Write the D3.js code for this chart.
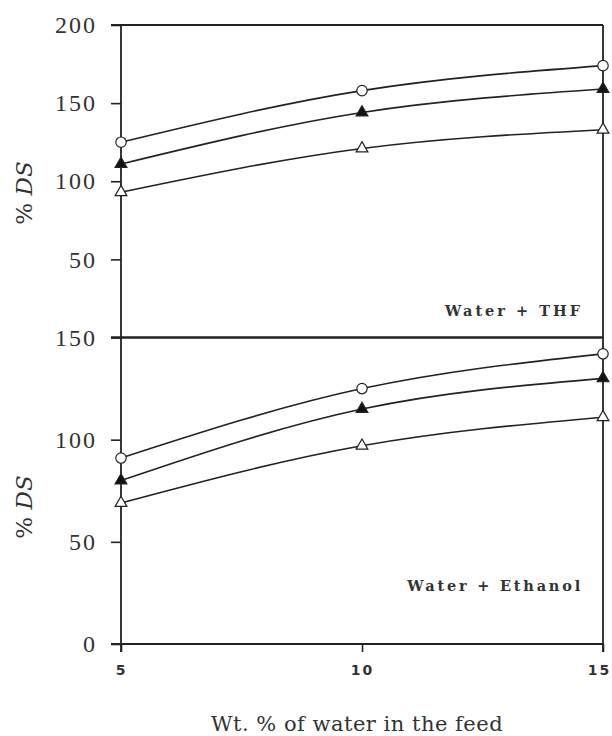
<!DOCTYPE html>
<html>
<head>
<meta charset="utf-8">
<script src="https://cdn.jsdelivr.net/npm/d3@7"></script>
<style>
  body { margin: 0; background: #fff; }
  svg { display: block; }
</style>
</head>
<body>
<svg class="chart"></svg>
<script>
// data
var waterPct = [5, 10, 15]
var thfCircle = [125, 158, 174]
var thfFilledTri = [111, 144, 159]
var thfOpenTri = [93, 121, 133]
var ethCircle = [91, 125, 142]
var ethFilledTri = [80, 115, 130]
var ethOpenTri = [69, 97, 111]
var topTicks = [50, 100, 150, 200]
var bottomTicks = [0, 50, 100, 150]

var width = 612, height = 736
var plotLeft = 121, plotRight = 603, plotTop = 25, plotMid = 337.5, plotBottom = 644

var svg = d3.select(".chart")
    .attr("width", width)
    .attr("height", height)

var xScale = d3.scaleLinear().domain([5, 15]).range([plotLeft, plotRight])
var yTop = d3.scaleLinear().domain([0, 200]).range([plotMid, plotTop])
var yBot = d3.scaleLinear().domain([0, 150]).range([plotBottom, plotMid])

var serif = "'Liberation Serif', 'DejaVu Serif', serif"
var wideSerif = "'DejaVu Serif', serif"

// left axes
function styleLeft(g) {
    g.select(".domain").remove()
    g.selectAll(".tick line").attr("stroke", "#222").attr("stroke-width", 1.6)
    g.selectAll(".tick text")
        .attr("font-family", serif)
        .attr("font-size", 24)
        .attr("letter-spacing", 2)
        .attr("fill", "#333")
}

svg.append("g")
    .attr("transform", "translate(" + plotLeft + ",0)")
    .call(d3.axisLeft(yTop).tickValues(topTicks).tickSize(10).tickPadding(14))
    .call(styleLeft)

svg.append("g")
    .attr("transform", "translate(" + plotLeft + ",0)")
    .call(d3.axisLeft(yBot).tickValues(bottomTicks).tickSize(10).tickPadding(14))
    .call(styleLeft)

// bottom axis
var xAxisG = svg.append("g")
    .attr("transform", "translate(0," + plotBottom + ")")
    .call(d3.axisBottom(xScale).tickValues(waterPct).tickSize(8).tickPadding(13))
xAxisG.select(".domain").remove()
xAxisG.selectAll(".tick line").attr("stroke", "#222").attr("stroke-width", 1.6)
xAxisG.selectAll(".tick text")
    .attr("font-family", "'DejaVu Sans', sans-serif")
    .attr("font-size", 14)
    .attr("font-weight", "bold")
    .attr("letter-spacing", 2)
    .attr("fill", "#333")
xAxisG.selectAll(".tick text").filter(function(d) { return d == 15 }).attr("dx", -4)

// frame lines
var frame = svg.append("g").attr("stroke", "#222").attr("fill", "none")
frame.append("line").attr("x1", plotLeft).attr("x2", plotLeft).attr("y1", plotTop).attr("y2", plotBottom + 8).attr("stroke-width", 1.8)
frame.append("line").attr("x1", plotRight).attr("x2", plotRight).attr("y1", plotTop).attr("y2", plotBottom + 8).attr("stroke-width", 1.8)
frame.append("line").attr("x1", plotLeft - 10).attr("x2", plotRight).attr("y1", plotTop).attr("y2", plotTop).attr("stroke-width", 1.8)
frame.append("line").attr("x1", plotLeft - 10).attr("x2", plotRight).attr("y1", plotMid).attr("y2", plotMid).attr("stroke-width", 2.4)
frame.append("line").attr("x1", plotLeft - 10).attr("x2", plotRight).attr("y1", plotBottom).attr("y2", plotBottom).attr("stroke-width", 1.8)

// series
var series = [
    {vals: thfCircle, y: yTop, shape: "circle"},
    {vals: thfFilledTri, y: yTop, shape: "filled"},
    {vals: thfOpenTri, y: yTop, shape: "open"},
    {vals: ethCircle, y: yBot, shape: "circle"},
    {vals: ethFilledTri, y: yBot, shape: "filled"},
    {vals: ethOpenTri, y: yBot, shape: "open"}
]

var circleSym = d3.symbol().type(d3.symbolCircle).size(85)
var triSym = d3.symbol().type(d3.symbolTriangle).size(60)

series.forEach(function(s) {
    var pts = waterPct.map(function(x, i) { return [x, s.vals[i]] })
    var line = d3.line()
        .x(function(d) { return xScale(d[0]) })
        .y(function(d) { return s.y(d[1]) })
        .curve(d3.curveMonotoneX)

    svg.append("path")
        .datum(pts)
        .attr("d", line)
        .attr("fill", "none")
        .attr("stroke", "#222")
        .attr("stroke-width", 1.6)

    svg.selectAll(null)
        .data(pts)
        .enter().append("path")
        .attr("transform", function(d) { return "translate(" + xScale(d[0]) + "," + s.y(d[1]) + ")" })
        .attr("d", s.shape == "circle" ? circleSym : triSym)
        .attr("fill", s.shape == "filled" ? "#111" : "#fff")
        .attr("stroke", "#222")
        .attr("stroke-width", 1.2)
})

// panel labels
svg.append("text")
    .attr("x", 583).attr("y", 316)
    .attr("text-anchor", "end")
    .attr("font-family", wideSerif)
    .attr("font-weight", "bold")
    .attr("font-size", 14.5)
    .attr("letter-spacing", 3)
    .attr("fill", "#333")
    .text("Water + THF")

svg.append("text")
    .attr("x", 583).attr("y", 591)
    .attr("text-anchor", "end")
    .attr("font-family", wideSerif)
    .attr("font-weight", "bold")
    .attr("font-size", 14.5)
    .attr("letter-spacing", 2.8)
    .attr("fill", "#333")
    .text("Water + Ethanol")

// y titles
function yTitle(cy) {
    var t = svg.append("text")
        .attr("transform", "translate(32," + cy + ") rotate(-90)")
        .attr("text-anchor", "middle")
        .attr("font-family", wideSerif)
        .attr("font-size", 23)
        .attr("fill", "#333")
    t.append("tspan").text("% ")
    t.append("tspan").attr("font-style", "italic").text("DS")
}
yTitle(193)
yTitle(507)

// x title
svg.append("text")
    .attr("x", 357).attr("y", 731)
    .attr("text-anchor", "middle")
    .attr("font-family", wideSerif)
    .attr("font-size", 21)
    .attr("letter-spacing", 0.5)
    .attr("fill", "#333")
    .text("Wt. % of water in the feed")
</script>
</body>
</html>
